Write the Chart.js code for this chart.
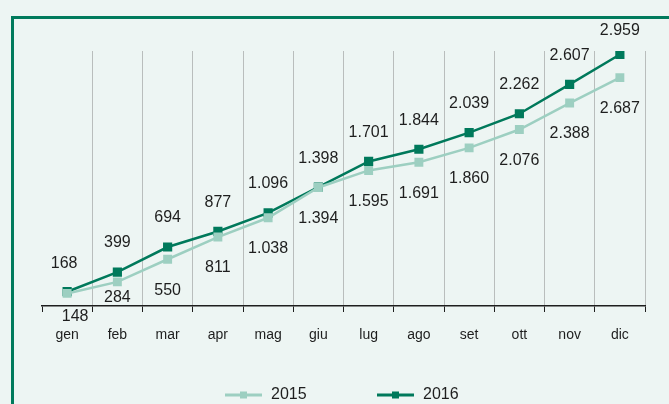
<!DOCTYPE html>
<html>
<head>
<meta charset="utf-8">
<script src="https://cdn.jsdelivr.net/npm/chart.js@4.4.0/dist/chart.umd.min.js"></script>
<style>
  html, body { margin: 0; padding: 0; background: #edf5f3; }
  #wrap { position: relative; width: 669px; height: 404px; overflow: hidden; }
  #frame { position: absolute; left: 11px; top: 16px; width: 700px; height: 500px;
           border-top: 3px solid #007a5c; border-left: 3px solid #007a5c; }
  canvas { position: absolute; left: 0; top: 0; }
</style>
</head>
<body>
<div id="wrap">
  <div id="frame"></div>
  <canvas id="lineChart" width="669" height="404"></canvas>
</div>
<script>
  // Dati
  const months = ['gen', 'feb', 'mar', 'apr', 'mag', 'giu', 'lug', 'ago', 'set', 'ott', 'nov', 'dic'];
  const values2015 = [148, 284, 550, 811, 1038, 1394, 1595, 1691, 1860, 2076, 2388, 2687];
  const values2016 = [168, 399, 694, 877, 1096, 1398, 1701, 1844, 2039, 2262, 2607, 2959];
  const seriesNames = ['2015', '2016'];

  const colors = {
    light: '#9dcfc1',
    dark: '#00795b',
    text: '#1e1e1e',
    grid: '#b9bdbc'
  };

  const fmt = v => v.toLocaleString('it-IT');

  // etichette dati: 2016 sopra, 2015 sotto (alcune spostate a mano come nell'originale)
  const labelShift = {
    '0-0': [8, 23],
    '0-1': [0, 16],
    '1-0': [-3, -28],
    '1-11': [0, -24]
  };

  const labelPlugin = {
    id: 'dataLabels',
    afterDatasetsDraw(chart) {
      const ctx = chart.ctx;
      ctx.save();
      ctx.font = '16px "Liberation Sans", Arial, sans-serif';
      ctx.fillStyle = colors.text;
      ctx.textAlign = 'center';
      ctx.textBaseline = 'middle';
      chart.data.datasets.forEach((ds, i) => {
        const meta = chart.getDatasetMeta(i);
        meta.data.forEach((pt, j) => {
          const s = labelShift[i + '-' + j] || [0, i === 1 ? -29 : 31];
          ctx.fillText(fmt(ds.data[j]), pt.x + s[0], pt.y + s[1]);
        });
      });
      ctx.restore();
    }
  };

  // legenda in basso
  const legendPlugin = {
    id: 'bottomLegend',
    afterDraw(chart) {
      const ctx = chart.ctx;
      const items = [
        { x: 225, name: seriesNames[0], color: colors.light },
        { x: 377, name: seriesNames[1], color: colors.dark }
      ];
      const y = 395;
      ctx.save();
      items.forEach(it => {
        ctx.strokeStyle = it.color;
        ctx.lineWidth = 3;
        ctx.beginPath();
        ctx.moveTo(it.x, y);
        ctx.lineTo(it.x + 37, y);
        ctx.stroke();
        ctx.fillStyle = it.color;
        ctx.fillRect(it.x + 15, y - 3.5, 7, 7);
        ctx.fillStyle = colors.text;
        ctx.font = '16px "Liberation Sans", Arial, sans-serif';
        ctx.textBaseline = 'middle';
        ctx.textAlign = 'left';
        ctx.fillText(it.name, it.x + 46, y);
      });
      ctx.restore();
    }
  };

  new Chart(document.getElementById('lineChart'), {
    type: 'line',
    data: {
      labels: months,
      datasets: [
        {
          label: seriesNames[0],
          data: values2015,
          borderColor: colors.light,
          backgroundColor: colors.light,
          borderWidth: 2.5,
          pointStyle: 'rect',
          pointRadius: 6.3,
          pointBorderWidth: 0,
          tension: 0
        },
        {
          label: seriesNames[1],
          data: values2016,
          borderColor: colors.dark,
          backgroundColor: colors.dark,
          borderWidth: 2.5,
          pointStyle: 'rect',
          pointRadius: 6.5,
          pointBorderWidth: 0,
          tension: 0
        }
      ]
    },
    options: {
      responsive: false,
      animation: false,
      layout: { padding: { left: 42, right: 24, top: 51, bottom: 58 } },
      plugins: {
        legend: { display: false },
        tooltip: { enabled: false }
      },
      scales: {
        y: {
          display: false,
          min: 0,
          max: 3000
        },
        x: {
          offset: true,
          afterFit: function(scale) { scale.height = 40; },
          border: { color: '#1e1e1e', width: 1.5 },
          grid: {
            offset: true,
            color: c => (c.index === 0 || c.index === months.length) ? 'rgba(0,0,0,0)' : colors.grid,
            tickColor: '#1e1e1e',
            tickLength: 6,
            lineWidth: 1
          },
          ticks: {
            color: colors.text,
            padding: 15,
            font: { family: '"Liberation Sans", Arial, sans-serif', size: 14 }
          }
        }
      }
    },
    plugins: [labelPlugin, legendPlugin]
  });
</script>
</body>
</html>
